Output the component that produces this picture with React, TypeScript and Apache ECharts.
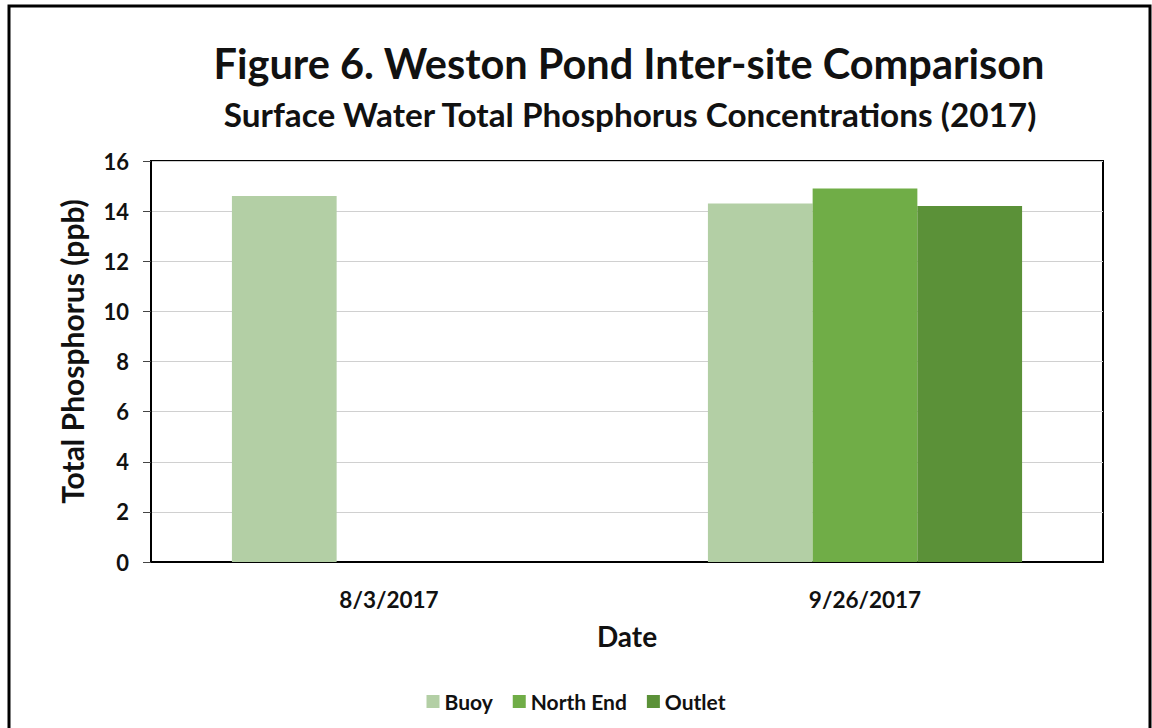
import React, { useEffect, useRef } from "react";
import * as echarts from "echarts";

const categories = ["8/3/2017", "9/26/2017"];
const buoy = [14.6, 14.3];
const northEnd = [null, 14.9];
const outlet = [null, 14.2];
const seriesNames = ["Buoy", "North End", "Outlet"];
const colors = ["#b3cfa5", "#70ad47", "#5b9138"];

const FONT = "Lato";

export default function App() {
  const ref = useRef<HTMLDivElement>(null);
  useEffect(() => {
    if (!ref.current) return;
    const chart = echarts.init(ref.current, null, { renderer: "svg" });
    const data = [buoy, northEnd, outlet];
    chart.setOption({
      animation: false,
      backgroundColor: "#ffffff",
      title: [
        {
          text: "Figure 6. Weston Pond Inter-site Comparison",
          left: 624,
          textAlign: "center",
          top: 37,
          textStyle: { fontFamily: FONT, fontWeight: "bold", fontSize: 41.5, color: "#111" },
        },
        {
          text: "Surface Water Total Phosphorus Concentrations (2017)",
          left: 625,
          textAlign: "center",
          top: 92,
          textStyle: { fontFamily: FONT, fontWeight: "bold", fontSize: 33.3, color: "#111" },
        },
      ],
      graphic: [
        {
          type: "rect",
          shape: { x: 9, y: 6, width: 1141, height: 760 },
          style: { fill: "none", stroke: "#000", lineWidth: 3 },
          silent: true,
        },
      ],
      legend: {
        top: 686,
        left: "center",
        itemWidth: 13,
        itemHeight: 13,
        itemGap: 20,
        icon: "rect",
        textStyle: { fontFamily: FONT, fontWeight: "bold", fontSize: 21, color: "#111" },
        data: seriesNames,
      },
      grid: {
        left: 151,
        top: 161,
        right: 49,
        bottom: 166,
        show: true,
        borderColor: "#000",
        borderWidth: 2,
        containLabel: false,
      },
      xAxis: {
        type: "category",
        data: categories,
        name: "Date",
        nameLocation: "middle",
        nameGap: 60,
        nameTextStyle: { fontFamily: FONT, fontWeight: "bold", fontSize: 28, color: "#111" },
        axisLine: { lineStyle: { color: "#000", width: 2 } },
        axisTick: { show: false },
        axisLabel: { fontFamily: FONT, fontWeight: "bold", fontSize: 22.5, color: "#111", margin: 26 },
      },
      yAxis: {
        type: "value",
        min: 0,
        max: 16,
        interval: 2,
        name: "Total Phosphorus (ppb)",
        nameLocation: "middle",
        nameRotate: 90,
        nameGap: 64,
        nameTextStyle: {
          fontFamily: FONT,
          fontWeight: "bold",
          fontSize: 30,
          color: "#111",
          padding: [0, 0, 0, 20],
        },
        axisLine: { show: true, lineStyle: { color: "#000", width: 2 } },
        axisTick: { show: true, length: 8, lineStyle: { color: "#444", width: 1 } },
        axisLabel: { fontFamily: FONT, fontWeight: "bold", fontSize: 22, color: "#111", margin: 22 },
        splitLine: { lineStyle: { color: "#d0d0d0", width: 1 } },
      },
      series: seriesNames.map((name, i) => ({
        name,
        type: "bar",
        data: data[i],
        itemStyle: { color: colors[i] },
        barGap: "0%",
        barCategoryGap: "34%",
      })),
    });
    return () => chart.dispose();
  }, []);
  return (
    <div
      ref={ref}
      style={{ position: "fixed", left: 0, top: 0, width: 1152, height: 728 }}
    />
  );
}
